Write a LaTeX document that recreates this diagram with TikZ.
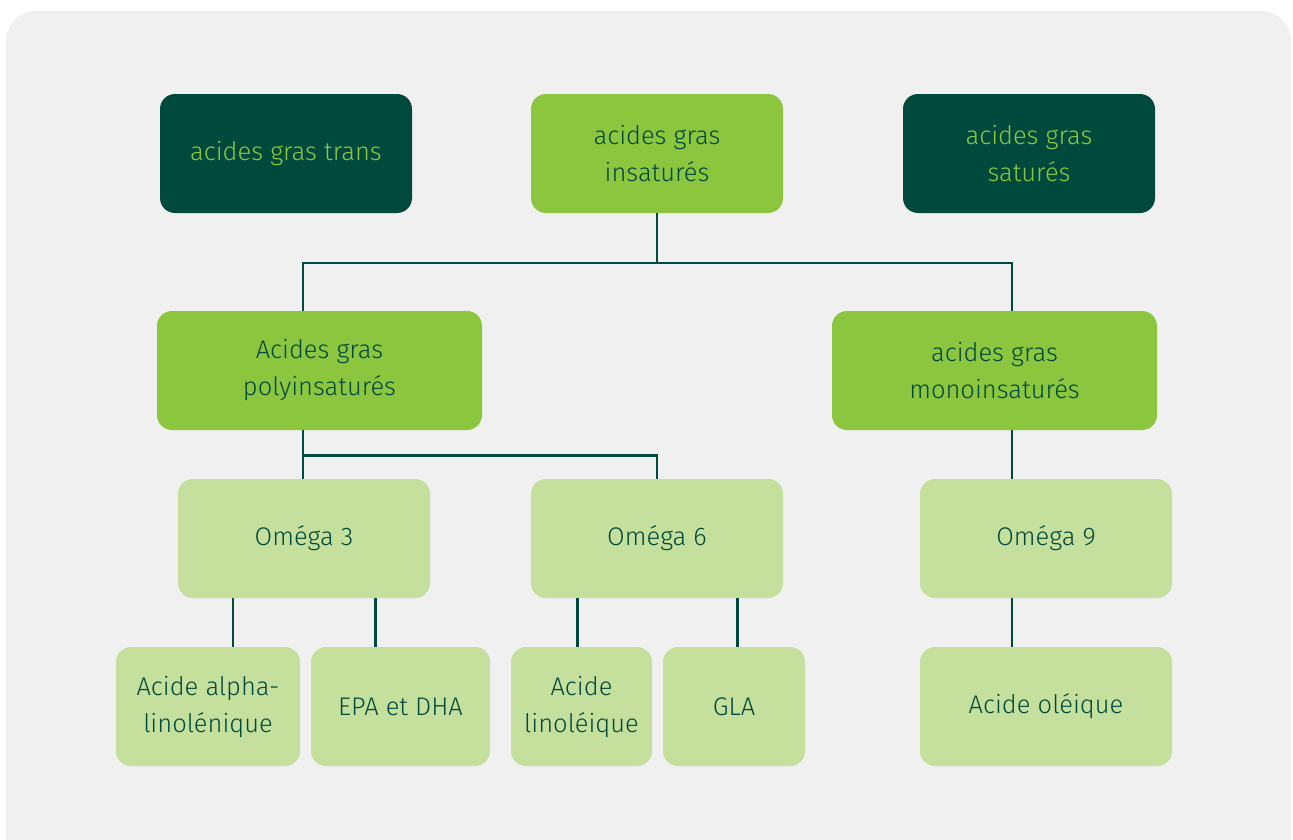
\documentclass[tikz,border=0pt]{standalone}
\usepackage{fontspec}
\setmainfont{Fira Sans Light}
\definecolor{panel}{HTML}{EFF0EF}
\definecolor{dark}{HTML}{004A3D}
\definecolor{mid}{HTML}{8CC63F}
\definecolor{light}{HTML}{C5DF9D}
\begin{document}
\begin{tikzpicture}[x=1pt,y=-1pt,
  box/.style={rounded corners=15pt, minimum height=119pt, align=center,
    font=\fontsize{25.5}{37}\selectfont, inner sep=0pt},
  darkbox/.style={box, fill=dark, text=mid},
  midbox/.style={box, fill=mid, text=dark},
  lightbox/.style={box, fill=light, text=dark},
  link/.style={draw=dark, line width=2.6pt}]
\useasboundingbox (0,0) rectangle (1293,839);
\clip (0,0) rectangle (1293,839);
\fill[white] (0,0) rectangle (1293,839);
\fill[panel, rounded corners=30pt] (6,11) rectangle (1291,870);
% top row
\node[darkbox, minimum width=252pt] (trans) at (286,153.5) {acides gras trans};
\node[midbox, minimum width=252pt] (ins) at (657,153.5) {acides gras\\insaturés};
\node[darkbox, minimum width=252pt] (sat) at (1029,153.5) {acides gras\\saturés};
% second row
\node[midbox, minimum width=325pt] (poly) at (319.5,370.5) {Acides gras\\polyinsaturés};
\node[midbox, minimum width=325pt] (mono) at (994.5,370.5) {acides gras\\monoinsaturés};
% third row
\node[lightbox, minimum width=252pt] (o3) at (304,538.5) {Oméga 3};
\node[lightbox, minimum width=252pt] (o6) at (657,538.5) {Oméga 6};
\node[lightbox, minimum width=252pt] (o9) at (1046,538.5) {Oméga 9};
% bottom row
\node[lightbox, minimum width=184pt] (ala) at (208,706.5) {Acide alpha-\\linolénique};
\node[lightbox, minimum width=179pt] (epa) at (400.5,706.5) {EPA et DHA};
\node[lightbox, minimum width=141pt] (la) at (581.5,706.5) {Acide\\linoléique};
\node[lightbox, minimum width=142pt] (gla) at (734,706.5) {GLA};
\node[lightbox, minimum width=252pt] (ole) at (1046,706.5) {Acide oléique};
% junctions
\coordinate (j1) at (657,263);
\coordinate (j2) at (303,455.5);
\draw[link] (ins.south) -- (j1);
\draw[link] (j1) -| (poly.north -| 303,0);
\draw[link] (j1) -| (mono.north -| 1012,0);
\draw[link] (poly.south -| 303,0) -- (o3.north -| 303,0);
\draw[link] (j2) -| (o6.north);
\draw[link] (o3.south -| 233,0) -- (ala.north -| 233,0);
\draw[link] (o3.south -| 375.5,0) -- (epa.north -| 375.5,0);
\draw[link] (o6.south -| 577.5,0) -- (la.north -| 577.5,0);
\draw[link] (o6.south -| 737.5,0) -- (gla.north -| 737.5,0);
\draw[link] (mono.south -| 1012,0) -- (o9.north -| 1012,0);
\draw[link] (o9.south -| 1012,0) -- (ole.north -| 1012,0);
\end{tikzpicture}
\end{document}
